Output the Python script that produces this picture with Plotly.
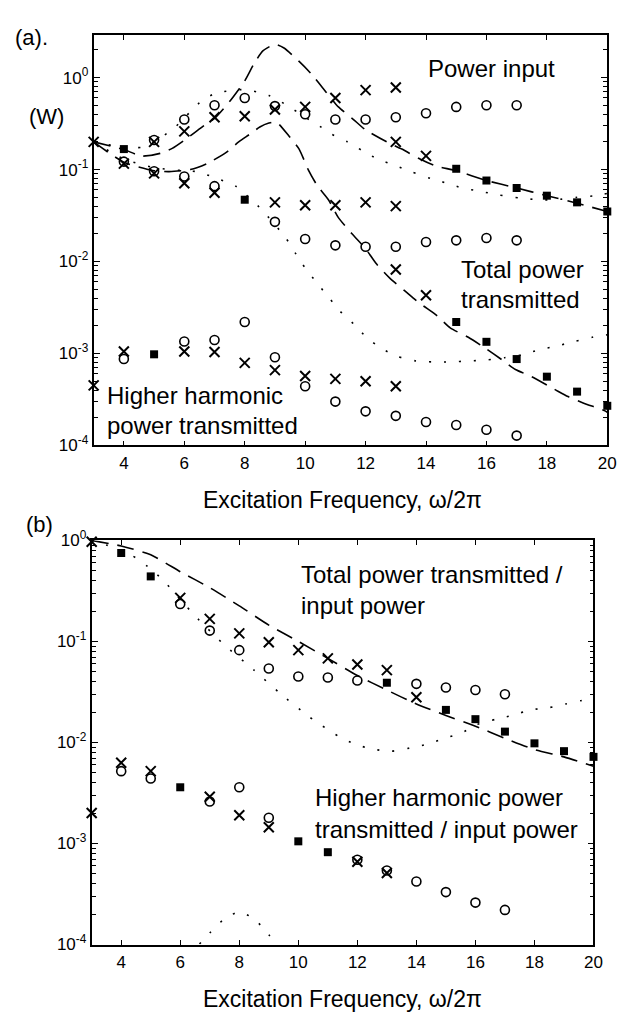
import numpy as np
import plotly.graph_objects as go

W, H = 637, 1023
FONT = "Liberation Sans, Arial, Helvetica, sans-serif"

# ---------------- panel (a): power, W ----------------
# power input
a_in_cross_x = [3, 5, 6, 7, 8, 9, 10, 11, 12, 13, 13, 14]
a_in_cross_y = [0.20, 0.20, 0.26, 0.37, 0.38, 0.45, 0.48, 0.60, 0.73, 0.78, 0.20, 0.141]
a_in_circ_x = [5, 6, 7, 8, 9, 10, 11, 12, 13, 14, 15, 16, 17]
a_in_circ_y = [0.21, 0.35, 0.50, 0.60, 0.49, 0.40, 0.35, 0.35, 0.37, 0.41, 0.48, 0.50, 0.50]
a_in_both_x = [4, 15, 16, 17, 18, 19, 20]
a_in_both_y = [0.167, 0.102, 0.076, 0.063, 0.052, 0.044, 0.035]

# total power transmitted
a_tr_cross_x = [4, 5, 6, 7, 9, 10, 11, 12, 13, 13, 14]
a_tr_cross_y = [0.116, 0.091, 0.071, 0.056, 0.044, 0.041, 0.041, 0.044, 0.040, 0.0082, 0.0043]
a_tr_circ_x = [4, 5, 6, 7, 9, 10, 11, 12, 13, 14, 15, 16, 17]
a_tr_circ_y = [0.122, 0.096, 0.084, 0.066, 0.027, 0.0176, 0.015, 0.0145, 0.0145, 0.0163, 0.017, 0.018, 0.017]
a_tr_both_x = [8, 15, 16, 17, 18, 19, 20]
a_tr_both_y = [0.047, 0.0022, 0.00134, 0.00087, 0.00056, 0.000385, 0.00027]

# higher harmonic power transmitted
a_hh_cross_x = [3, 4, 6, 7, 8, 9, 10, 11, 12, 13]
a_hh_cross_y = [4.5e-4, 1.05e-3, 1.05e-3, 1.04e-3, 7.9e-4, 6.6e-4, 5.7e-4, 5.3e-4, 5.0e-4, 4.4e-4]
a_hh_circ_x = [4, 6, 7, 8, 9, 10, 11, 12, 13, 14, 15, 16, 17]
a_hh_circ_y = [8.7e-4, 1.35e-3, 1.4e-3, 2.2e-3, 9.1e-4, 4.4e-4, 3.0e-4, 2.35e-4, 2.1e-4,
               1.8e-4, 1.67e-4, 1.48e-4, 1.28e-4]
a_hh_both_x = [5]
a_hh_both_y = [9.8e-4]

# model curves, panel (a)
a_in_dash_x = [3, 4, 4.6, 5.2, 5.6, 6.1, 6.65, 7.0, 7.5, 8.0, 8.3, 8.6, 9.0, 9.3, 9.8, 10.2,
               10.7, 11.1, 11.6, 12.0, 12.7, 13.2, 13.8, 14.3, 15, 16, 17, 18, 19, 20]
a_in_dash_y = [0.20, 0.165, 0.14, 0.15, 0.17, 0.22, 0.30, 0.36, 0.55, 0.92, 1.4, 1.95, 2.3, 2.1,
               1.5, 1.1, 0.69, 0.48, 0.35, 0.27, 0.20, 0.167, 0.13, 0.11, 0.097, 0.076, 0.063,
               0.052, 0.043, 0.035]
a_tr_dash_x = [3, 4, 5, 5.5, 6.2, 6.75, 7.4, 7.8, 8.15, 8.5, 8.8, 9.04, 9.47, 9.8, 10.1, 10.4,
               10.77, 11.1, 11.55, 12, 12.35, 12.8, 13.3, 13.8, 14.35, 14.8, 15.4, 15.95, 16.5,
               16.96, 17.5, 18.3, 18.7, 19.2, 19.9, 20]
a_tr_dash_y = [0.20, 0.12, 0.097, 0.095, 0.10, 0.116, 0.155, 0.20, 0.24, 0.29, 0.32, 0.33, 0.23,
               0.167, 0.10, 0.067, 0.047, 0.030, 0.020, 0.0138, 0.0095, 0.0066, 0.0048, 0.0035,
               0.0026, 0.0019, 0.0015, 0.00115, 0.00086, 0.00067, 0.00056, 0.0004, 0.00034,
               0.00029, 0.00024, 0.00023]
a_in_dot_x = [3, 4, 4.6, 5.2, 5.7, 6.5, 7, 8, 8.8, 9.4, 10, 10.4, 10.8, 11.4, 11.9, 12.4, 13,
              13.5, 14.15, 14.7, 15.2, 15.8, 16.4, 17.1, 17.7, 18.3, 19, 19.6, 20]
a_in_dot_y = [0.20, 0.175, 0.175, 0.22, 0.29, 0.53, 0.67, 0.74, 0.64, 0.50, 0.37, 0.31, 0.25,
              0.20, 0.16, 0.13, 0.11, 0.095, 0.080, 0.071, 0.063, 0.058, 0.053, 0.049, 0.047,
              0.047, 0.050, 0.052, 0.055]
a_tr_dot_x = [3, 4, 5, 6, 6.4, 7, 7.7, 8.55, 9.36, 9.7, 10, 10.4, 10.8, 11.15, 11.6, 12.03,
              12.5, 13.05, 13.67, 14.26, 14.85, 15.4, 16, 16.6, 17.2, 17.75, 18.3, 18.9, 19.5, 20]
a_tr_dot_y = [0.20, 0.13, 0.105, 0.097, 0.095, 0.082, 0.066, 0.037, 0.018, 0.012, 0.0085,
              0.0058, 0.0040, 0.0029, 0.0021, 0.0015, 0.00115, 0.00093, 0.00083, 0.00081,
              0.00081, 0.00083, 0.00085, 0.0009, 0.00097, 0.0011, 0.0012, 0.00135, 0.0015,
              0.0016]

# ---------------- panel (b): ratios to input power ----------------
b_tt_cross_x = [3, 6, 7, 8, 9, 10, 11, 12, 13, 14]
b_tt_cross_y = [0.97, 0.27, 0.167, 0.12, 0.098, 0.082, 0.068, 0.059, 0.052, 0.028]
b_tt_circ_x = [6, 7, 8, 9, 10, 11, 12, 14, 15, 16, 17]
b_tt_circ_y = [0.235, 0.128, 0.082, 0.054, 0.045, 0.044, 0.041, 0.038, 0.035, 0.033, 0.030]
b_tt_both_x = [4, 5, 13, 15, 16, 17, 18, 19, 20]
b_tt_both_y = [0.75, 0.44, 0.039, 0.021, 0.017, 0.0128, 0.0098, 0.0082, 0.0072]

b_hh_cross_x = [3, 4, 5, 7, 8, 9, 12, 13]
b_hh_cross_y = [2.0e-3, 6.3e-3, 5.2e-3, 2.9e-3, 1.9e-3, 1.45e-3, 6.6e-4, 5.1e-4]
b_hh_circ_x = [4, 5, 7, 8, 9, 12, 13, 14, 15, 16, 17]
b_hh_circ_y = [5.2e-3, 4.4e-3, 2.6e-3, 3.6e-3, 1.8e-3, 6.9e-4, 5.4e-4, 4.2e-4, 3.3e-4,
               2.6e-4, 2.2e-4]
b_hh_both_x = [6, 10, 11]
b_hh_both_y = [3.6e-3, 1.05e-3, 8.2e-4]

b_tt_dash_x = [3, 4, 5, 6, 7, 8, 9, 10, 11, 12, 13, 14, 15, 16, 17, 18, 19, 20]
b_tt_dash_y = [1.0, 0.88, 0.72, 0.49, 0.34, 0.225, 0.145, 0.10, 0.068, 0.046, 0.033, 0.024,
               0.0185, 0.0145, 0.011, 0.0085, 0.0072, 0.0058]
b_tt_dot_x = [3, 3.5, 4.33, 4.9, 5.4, 6, 6.6, 7.5, 8.5, 9.36, 10.36, 11.36, 11.93, 12.5,
              13.15, 13.77, 14.37, 14.94, 15.5, 16.05, 16.7, 17.3, 17.85, 18.45, 19.05, 19.6, 20]
b_tt_dot_y = [1.0, 0.9, 0.72, 0.55, 0.41, 0.26, 0.167, 0.092, 0.052, 0.031, 0.018, 0.0115,
              0.0096, 0.0086, 0.0082, 0.0088, 0.0096, 0.011, 0.0123, 0.015, 0.017, 0.0187,
              0.021, 0.022, 0.024, 0.026, 0.027]
b_hh_dot_x = [6, 6.5, 7, 7.5, 8, 8.5, 9, 9.5, 10]
b_hh_dot_y = [6e-5, 9e-5, 1.3e-4, 1.8e-4, 2.1e-4, 1.8e-4, 1.25e-4, 8e-5, 5e-5]

# axis ticks
x_ticks = [4, 6, 8, 10, 12, 14, 16, 18, 20]
y_tickvals = [1e-4, 1e-3, 1e-2, 1e-1, 1e0]
y_ticktext = ["10<sup>-4</sup>", "10<sup>-3</sup>", "10<sup>-2</sup>", "10<sup>-1</sup>",
              "10<sup>0</sup>"]


def px_x(p):
    return p / W


def px_y(p):
    return 1 - p / H


fig = go.Figure()

DASH = "17px,9px"
DOT = "2px,13px"


def add_line(x, y, dash, ax):
    fig.add_trace(go.Scatter(x=x, y=y, mode="lines", xaxis=ax[0], yaxis=ax[1],
                             line=dict(color="black", width=1.6, dash=dash, shape="spline",
                                       smoothing=0.6),
                             showlegend=False, hoverinfo="skip"))


def add_marks(x, y, kind, ax):
    if kind == "circle":
        m = dict(symbol="circle-open", size=9, color="black", line=dict(width=1.6))
    elif kind == "cross":
        m = dict(symbol="x-thin-open", size=10, color="black", line=dict(width=2, color="black"))
    else:
        m = dict(symbol="square", size=8, color="black", line=dict(width=0))
    fig.add_trace(go.Scatter(x=x, y=y, mode="markers", xaxis=ax[0], yaxis=ax[1], marker=m,
                             cliponaxis=False, showlegend=False))


A = ("x", "y")
B = ("x2", "y2")

add_line(a_in_dash_x, a_in_dash_y, DASH, A)
add_line(a_tr_dash_x, a_tr_dash_y, DASH, A)
add_line(a_in_dot_x, a_in_dot_y, DOT, A)
add_line(a_tr_dot_x, a_tr_dot_y, DOT, A)
for cx, cy, ox, oy, sx, sy in [
    (a_in_cross_x, a_in_cross_y, a_in_circ_x, a_in_circ_y, a_in_both_x, a_in_both_y),
    (a_tr_cross_x, a_tr_cross_y, a_tr_circ_x, a_tr_circ_y, a_tr_both_x, a_tr_both_y),
    (a_hh_cross_x, a_hh_cross_y, a_hh_circ_x, a_hh_circ_y, a_hh_both_x, a_hh_both_y),
]:
    add_marks(ox, oy, "circle", A)
    add_marks(cx, cy, "cross", A)
    add_marks(sx, sy, "square", A)

add_line(b_tt_dash_x, b_tt_dash_y, DASH, B)
add_line(b_tt_dot_x, b_tt_dot_y, DOT, B)
add_line(b_hh_dot_x, b_hh_dot_y, DOT, B)
for cx, cy, ox, oy, sx, sy in [
    (b_tt_cross_x, b_tt_cross_y, b_tt_circ_x, b_tt_circ_y, b_tt_both_x, b_tt_both_y),
    (b_hh_cross_x, b_hh_cross_y, b_hh_circ_x, b_hh_circ_y, b_hh_both_x, b_hh_both_y),
]:
    add_marks(ox, oy, "circle", B)
    add_marks(cx, cy, "cross", B)
    add_marks(sx, sy, "square", B)

minor_vals = [m * 10.0 ** d for d in range(-4, 1) for m in range(2, 10)]

xaxis_common = dict(range=[3, 20], tickmode="array", tickvals=x_ticks, ticks="inside",
                    ticklen=5, tickwidth=1.4, tickcolor="black", showline=True,
                    linecolor="black", linewidth=1.8, mirror="ticks", showgrid=False,
                    zeroline=False, tickfont=dict(family=FONT, size=17, color="black"),
                    ticklabelstandoff=1)
yaxis_common = dict(type="log", tickmode="array", tickvals=y_tickvals, ticktext=y_ticktext,
                    ticks="inside", ticklen=6, tickwidth=1.4, tickcolor="black",
                    showline=True, linecolor="black", linewidth=1.8, mirror="ticks",
                    showgrid=False, zeroline=False,
                    tickfont=dict(family=FONT, size=17, color="black"),
                    ticklabelstandoff=0,
                    minor=dict(tickmode="array", tickvals=minor_vals, ticks="inside",
                               ticklen=4, tickcolor="black", tickwidth=1.4, showgrid=False))

fig.update_layout(
    width=W, height=H, margin=dict(l=0, r=0, t=0, b=0),
    paper_bgcolor="white", plot_bgcolor="white", showlegend=False,
    xaxis=dict(domain=[px_x(95), px_x(616)], anchor="y", **xaxis_common),
    yaxis=dict(domain=[px_y(443), px_y(24)], anchor="x", range=[-4, np.log10(2.87)],
               **yaxis_common),
    xaxis2=dict(domain=[px_x(93), px_x(602)], anchor="y2", **xaxis_common),
    yaxis2=dict(domain=[px_y(953), px_y(540)], anchor="x2", range=[-4, 0], **yaxis_common),
)


def label(text, x, y, size=24, xanchor="left"):
    fig.add_annotation(text=text, x=px_x(x), y=px_y(y), xref="paper", yref="paper",
                       xanchor=xanchor, yanchor="middle", showarrow=False, align="left",
                       font=dict(family=FONT, size=size, color="black"))


label("(a).", 13, 26, size=22)
label("(W)", 27, 107, size=22)
label("Power input", 432, 58)
label("Total power", 466, 263)
label("transmitted", 466, 294)
label("Higher harmonic", 106, 392)
label("power transmitted", 106, 423)
label("Excitation Frequency, \u03c9/2\u03c0", 347, 499, size=23, xanchor="center")

label("(b)", 24, 524, size=22)
label("Total power transmitted /", 303, 575)
label("input power", 303, 607)
label("Higher harmonic power", 317, 803)
label("transmitted / input power", 317, 835)
label("Excitation Frequency, \u03c9/2\u03c0", 347, 1009, size=23, xanchor="center")

fig.write_html("out.html")
